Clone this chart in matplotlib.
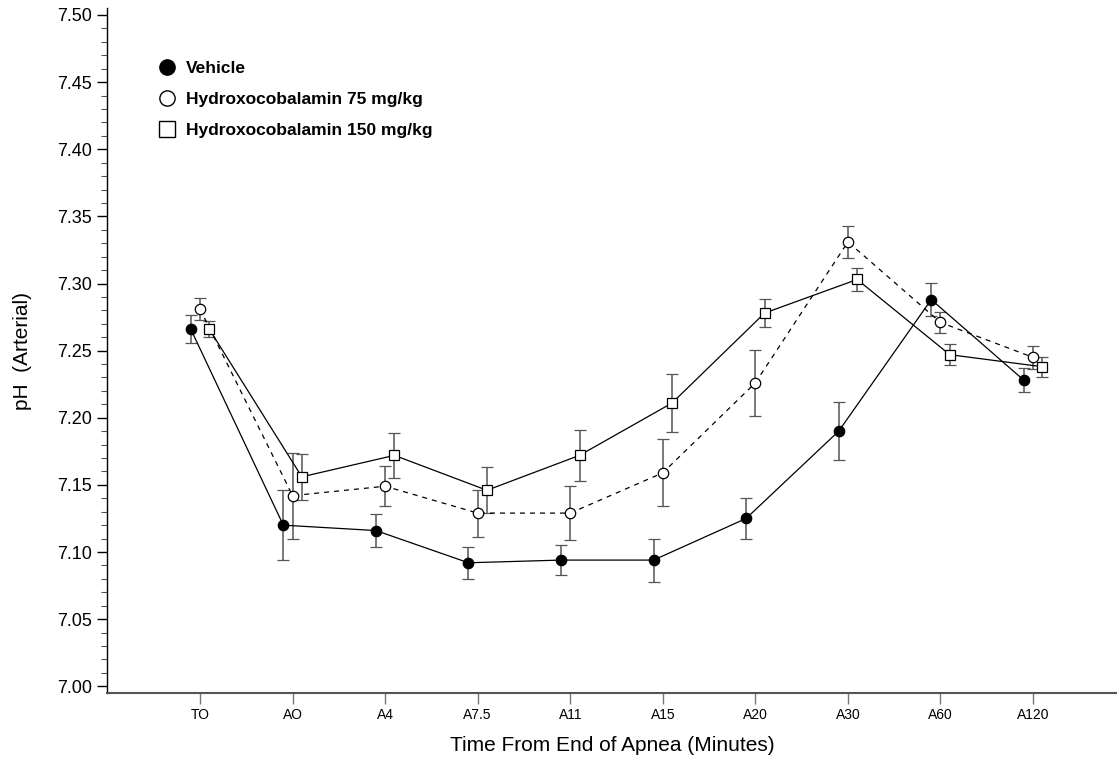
import numpy as np
import matplotlib
matplotlib.use("Agg")
import matplotlib.pyplot as plt
from matplotlib.lines import Line2D
from matplotlib.ticker import MultipleLocator

# data
times = ["TO", "AO", "A4", "A7.5", "A11", "A15", "A20", "A30", "A60", "A120"]

vehicle     = [7.266, 7.120, 7.116, 7.092, 7.094, 7.094, 7.125, 7.190, 7.288, 7.228]
vehicle_err = [0.0105, 0.026, 0.012, 0.012, 0.011, 0.016, 0.0155, 0.0215, 0.0125, 0.009]

hc75     = [7.281, 7.142, 7.149, 7.129, 7.129, 7.159, 7.226, 7.331, 7.271, 7.245]
hc75_err = [0.008, 0.032, 0.015, 0.0175, 0.020, 0.025, 0.0245, 0.012, 0.008, 0.0085]

hc150     = [7.266, 7.156, 7.172, 7.146, 7.172, 7.211, 7.278, 7.303, 7.247, 7.238]
hc150_err = [0.006, 0.017, 0.017, 0.017, 0.019, 0.0215, 0.0105, 0.0085, 0.008, 0.0075]

labels = ["Vehicle", "Hydroxocobalamin 75 mg/kg", "Hydroxocobalamin 150 mg/kg"]

plt.rcParams['font.family'] = ["Liberation Sans", "DejaVu Sans"]

fig = plt.figure(figsize=(11.17, 7.67), dpi=100)
ax = fig.add_axes([107/1117, 74/767, 1010/1117, 685/767])

x = np.arange(len(times))
off = 0.1

# series: (values, errors, offset, marker, facecolor, linestyle)
series = [
    (vehicle, vehicle_err, -off, "o", "black", "-"),
    (hc75, hc75_err, 0.0, "o", "white", (0, (4, 4))),
    (hc150, hc150_err, off, "s", "white", "-"),
]
for vals, err, dx, mk, fc, ls in series:
    ax.errorbar(x + dx, vals, yerr=err, color="black", ecolor="#555555",
                elinewidth=1.1, capsize=4, capthick=1.1, linestyle=ls,
                linewidth=0.9, marker=mk, markersize=7.5,
                markerfacecolor=fc, markeredgecolor="black",
                markeredgewidth=0.9, zorder=3)

ax.set_xlim(-1.005, 9.907)
ax.set_xticks(x)
ax.set_xticklabels(times, fontsize=10)
ax.yaxis.set_minor_locator(MultipleLocator(0.01))
yt = np.arange(7.0, 7.501, 0.05)
ax.set_yticks(yt)
ax.set_yticklabels([f"{v:.2f}" for v in yt], fontsize=13)
ax.set_ylim(6.995, 7.5052)

for side in ["top", "right"]:
    ax.spines[side].set_visible(False)
ax.spines["bottom"].set_color("#555555")
ax.spines["bottom"].set_linewidth(1.5)
ax.spines["left"].set_linewidth(1.0)
ax.tick_params(axis="y", which="major", length=7, width=1, pad=4)
ax.tick_params(axis="y", which="minor", length=4, width=0.8, color="#555555")
ax.tick_params(axis="x", length=8, width=1, color="#777777", pad=3)

ax.set_ylabel("pH  (Arterial)", fontsize=15, labelpad=18)
ax.set_xlabel("Time From End of Apnea (Minutes)", fontsize=15, labelpad=10)

handles = [
    Line2D([], [], linestyle="none", marker="o", markersize=11,
           markerfacecolor="black", markeredgecolor="black"),
    Line2D([], [], linestyle="none", marker="o", markersize=11,
           markerfacecolor="white", markeredgecolor="black"),
    Line2D([], [], linestyle="none", marker="s", markersize=11,
           markerfacecolor="white", markeredgecolor="black"),
]
ax.legend(handles, labels, loc="upper left", bbox_to_anchor=(0.035, 0.945),
          frameon=False, handlelength=1.0, handletextpad=0.6,
          labelspacing=0.9, prop={"weight": "bold", "size": 12.5})

fig.savefig("out.png", dpi=100)
